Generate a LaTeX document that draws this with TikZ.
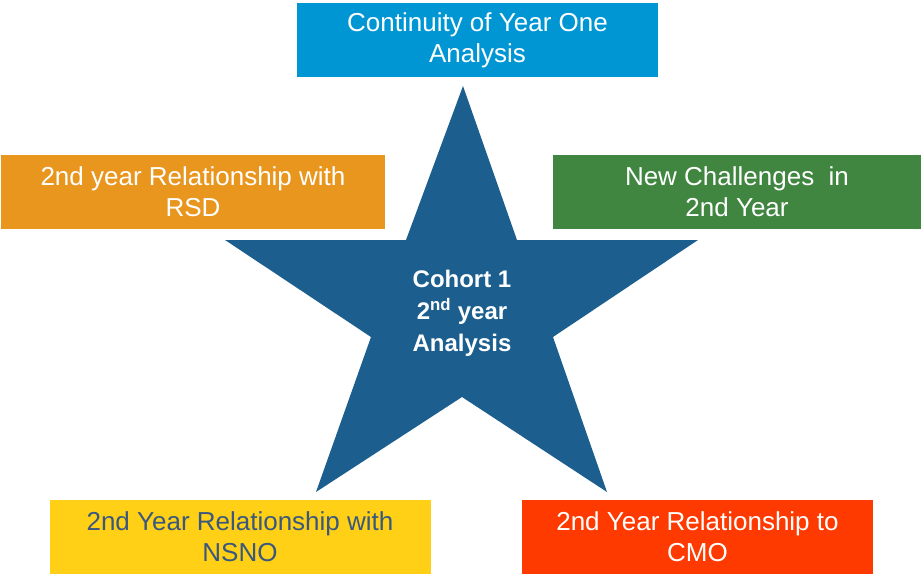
\documentclass[tikz,border=0pt]{standalone}
\usepackage{fontspec}
\setmainfont{Liberation Sans}
\definecolor{topblue}{RGB}{0,150,212}
\definecolor{rsdorange}{RGB}{232,150,30}
\definecolor{chgreen}{RGB}{64,134,64}
\definecolor{nsnoyellow}{RGB}{255,208,22}
\definecolor{cmored}{RGB}{255,58,0}
\definecolor{starblue}{RGB}{28,95,142}
\definecolor{nsnotext}{RGB}{58,88,126}
\begin{document}
\begin{tikzpicture}[x=1pt,y=-1pt,
  topic/.style={rectangle, inner sep=0pt, align=center, text=white,
    font=\fontsize{26}{31}\selectfont, minimum height=74pt}]
\useasboundingbox (0,0) rectangle (922,574);

% central star
\fill[starblue] (463,86) -- (517,240) -- (698,240) -- (553,337) -- (607,492)
  -- (462,397) -- (316,492) -- (371,337) -- (225,240) -- (406,240) -- cycle;
\node[align=center, text=white, font=\bfseries\fontsize{24}{32}\selectfont]
  (core) at (462,313) {Cohort 1\\2\textsuperscript{nd} year\\Analysis};

% surrounding topic boxes
\node[topic, fill=topblue, minimum width=361pt] (continuity) at (477.5,40)
  {Continuity of Year One\\Analysis};
\node[topic, fill=rsdorange, minimum width=384pt] (rsd) at (193,192)
  {2nd year Relationship with\\RSD};
\node[topic, fill=chgreen, minimum width=368pt] (challenges) at (737,192)
  {New Challenges\ \ in\\2nd Year};
\node[topic, fill=nsnoyellow, text=nsnotext, minimum width=381pt] (nsno) at (240,537)
  {2nd Year Relationship with\\NSNO};
\node[topic, fill=cmored, minimum width=351pt] (cmo) at (697.5,537)
  {2nd Year Relationship to\\CMO};
\end{tikzpicture}
\end{document}
